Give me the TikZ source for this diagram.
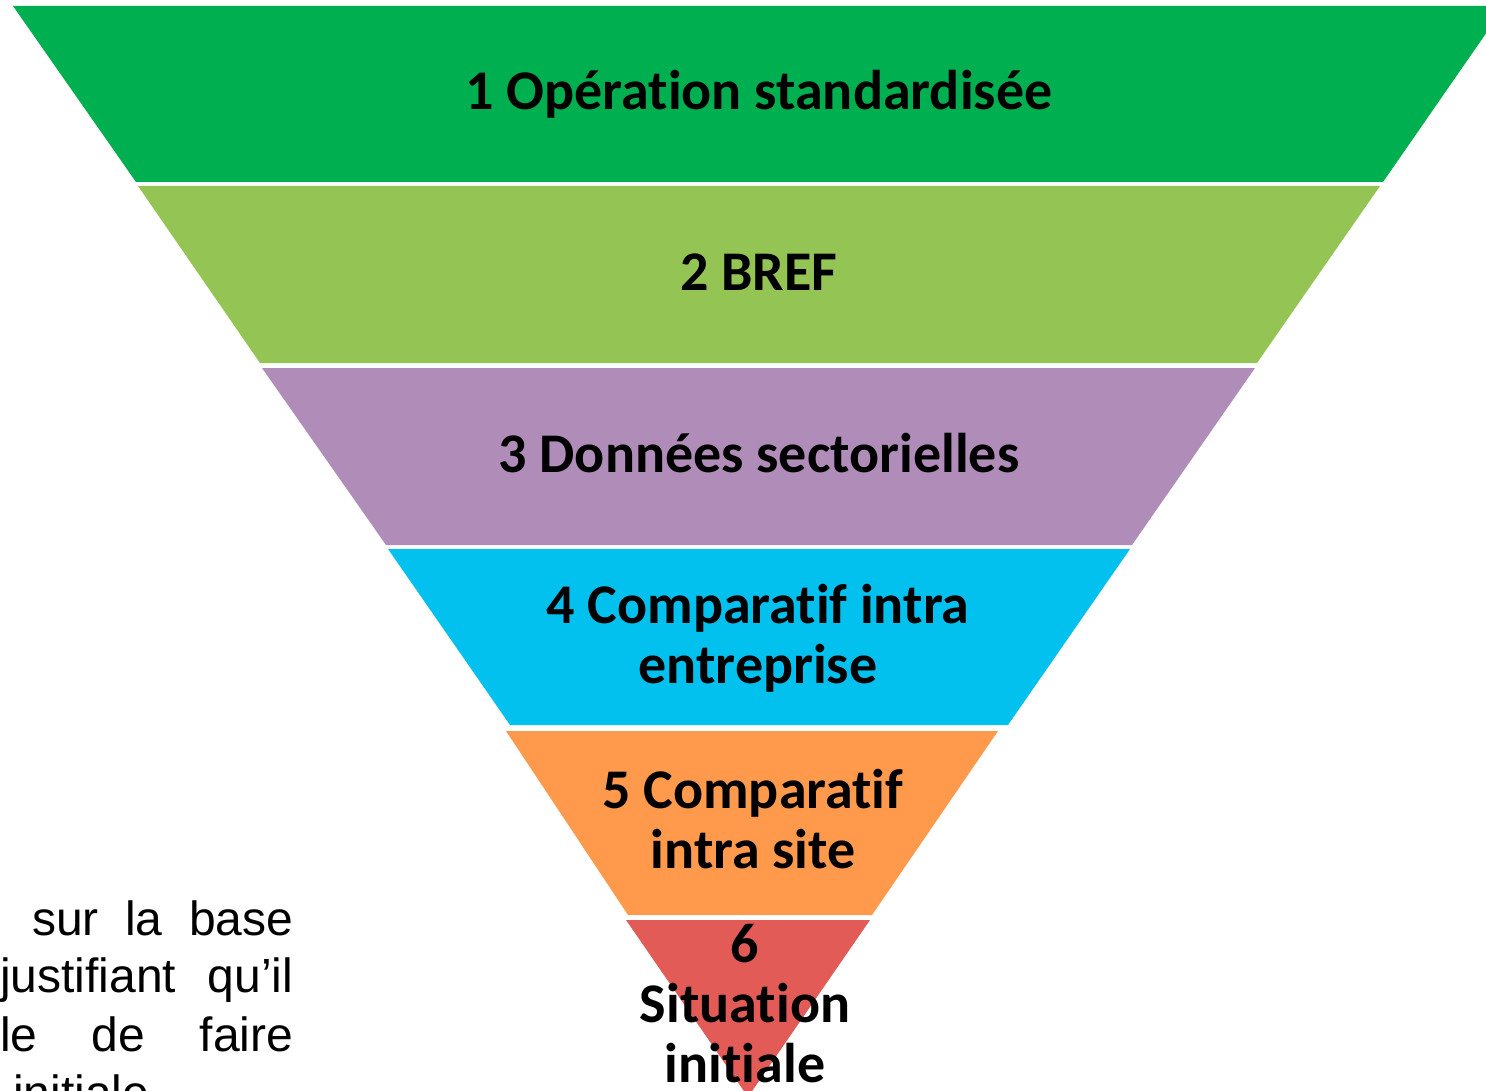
\documentclass[tikz,border=0pt]{standalone}
\usepackage{fontspec}
\setmainfont{Carlito}[Ligatures=NoCommon]
\newfontfamily\arialfont{Liberation Sans}
\definecolor{bandA}{HTML}{00AF50}
\definecolor{bandB}{HTML}{94C454}
\definecolor{bandC}{HTML}{B08CB9}
\definecolor{bandD}{HTML}{03C1EE}
\definecolor{bandE}{HTML}{FF9A4C}
\definecolor{bandF}{HTML}{E25B57}

\begin{document}
\begin{tikzpicture}[x=1pt,y=-1pt]
	\tikzstyle{BandLabel}=[font=\bfseries\fontsize{56}{60}\selectfont,align=center,inner sep=0pt,anchor=base]
	\tikzstyle{SideText}=[font=\arialfont\fontsize{48}{58}\selectfont,inner sep=0pt,anchor=base west]
	\useasboundingbox (0,0) rectangle (1486,1091);
	\fill[white] (0,0) rectangle (1486,1091);
	\clip (0,0) rectangle (1486,1091);
	\fill[bandA] (13,6) -- (1505,6) -- (1383,182) -- (136,182) -- cycle;
	\fill[bandB] (138,186) -- (1380,186) -- (1257,363) -- (260,363) -- cycle;
	\fill[bandC] (262,368) -- (1255,368) -- (1132,545) -- (386,545) -- cycle;
	\fill[bandD] (388,549) -- (1130,549) -- (1008,725) -- (510,725) -- cycle;
	\fill[bandE] (506,731) -- (998,731) -- (872,915) -- (628,915) -- cycle;
	\fill[bandF] (626,920) -- (870,920) -- (748,1097) -- cycle;
	% base anchor = last line
	\node[BandLabel] (stdop) at (759,110) {1 Opération standardisée};
	\node[BandLabel] (bref) at (759,291) {2 BREF};
	\node[BandLabel] (sector) at (759,472) {3 Données sectorielles};
	\node[BandLabel] (company) at (758,683) {4 Comparatif intra\\entreprise};
	\node[BandLabel] (site) at (753,868) {5 Comparatif\\intra site};
	\node[BandLabel] (initial) at (745,1082) {6\\Situation\\initiale};
	\node[SideText] (lineA) at (32,935) {\makebox[261pt][s]{sur la base}};
	\node[SideText] (lineB) at (0,992) {\makebox[293pt][s]{justifiant qu’il}};
	\node[SideText] (lineC) at (0,1051) {\makebox[293pt][s]{le de faire}};
	\node[SideText] (lineD) at (13,1109) {initiale};
\end{tikzpicture}
\end{document}
